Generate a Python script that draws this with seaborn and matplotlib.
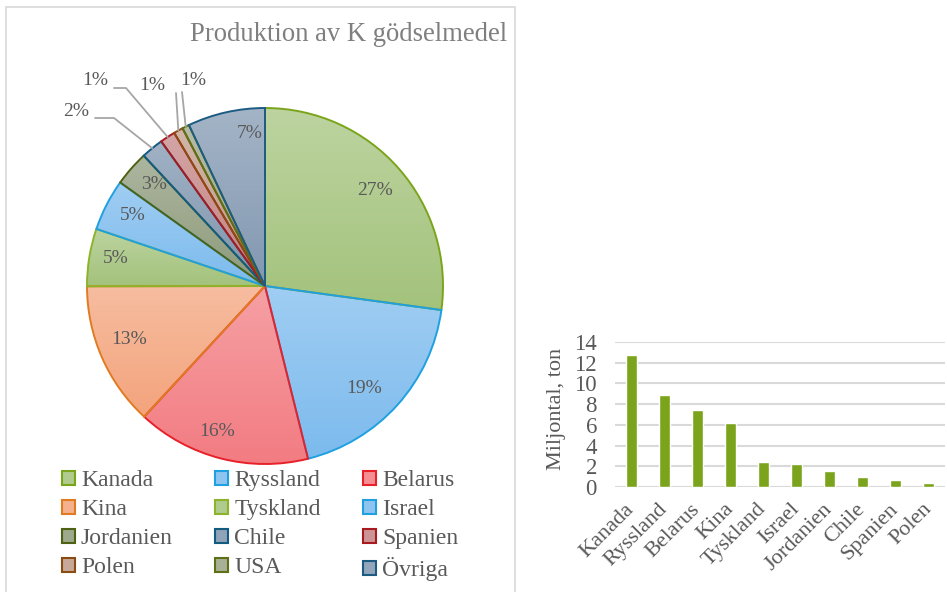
import numpy as np
import pandas as pd
import matplotlib
matplotlib.use("Agg")
import matplotlib.pyplot as plt
from matplotlib.patches import Patch, Rectangle
from matplotlib.colors import to_rgb
import seaborn as sns

# ---------------- data ----------------
countries = ["Kanada", "Ryssland", "Belarus", "Kina", "Tyskland", "Israel",
             "Jordanien", "Chile", "Spanien", "Polen", "USA", "Övriga"]
production = [12.75, 8.9, 7.4, 6.15, 2.45, 2.2, 1.5, 0.95, 0.65, 0.4, 0.3, 3.3]
bar_countries = countries[:10]
bar_values = production[:10]
yticks = [0, 2, 4, 6, 8, 10, 12, 14]
title = "Produktion av K gödselmedel"
ylabel = "Miljontal, ton"

# ---------------- style ----------------
sns.set_style("white")
plt.rcParams["font.family"] = ["Liberation Serif", "DejaVu Serif"]
TXT = "#595959"

fills = ['#B0CB8E', '#8EC4F0', '#F48E93', '#F5B08E', '#B0CB8E', '#8EC4F0',
         '#9DA88D', '#8FA3B9', '#CC9494', '#C8A898', '#A8B096', '#93A6BC']
edges = ['#7AA51A', '#1FA0E0', '#E8202A', '#E07B22', '#8DB32A', '#20A0E0',
         '#4F6213', '#145B82', '#A81A20', '#8B4C14', '#5E7016', '#1D5C82']

W, H = 947, 592
fig = plt.figure(figsize=(W / 100, H / 100), dpi=100)

# frame around left panel
fig.patches.append(Rectangle((6 / W, -0.01), (515 - 6) / W, 1 - 7 / H + 0.01,
                             transform=fig.transFigure, fill=False,
                             edgecolor="#D9D9D9", linewidth=1.2))

fig.text(507 / W, 1 - 41 / H, title, ha="right", va="baseline",
         fontsize=19.2, color="#7F7F7F")

# ---------------- pie ----------------
cx, cy, R = 265, 286, 178
half = 200
ax_pie = fig.add_axes([(cx - half) / W, (H - cy - half) / H, 2 * half / W, 2 * half / H])
wedges, _ = ax_pie.pie(production, startangle=90, counterclock=False, radius=1,
                       wedgeprops=dict(linewidth=1.4))
grad = np.linspace(0, 1, 200)[:, None, None]
for w, f, e in zip(wedges, fills, edges):
    c = np.array(to_rgb(f))
    top = c + (1 - c) * 0.16
    bot = np.clip(c - (1 - c) * 0.16, 0, 1)
    img = top * (1 - grad) + bot * grad
    ext = w.get_path().get_extents()
    im = ax_pie.imshow(img, extent=(ext.x0, ext.x1, ext.y0, ext.y1), origin="upper",
                       aspect="auto", interpolation="bilinear", zorder=1)
    im.set_clip_path(w)
    w.set_facecolor("none")
    w.set_edgecolor(e)
    w.set_zorder(2)

lim = half / R
ax_pie.set_xlim(-lim, lim)
ax_pie.set_ylim(-lim, lim)
ax_pie.set_aspect("equal")
ax_pie.axis("off")

total = sum(production)
pcts = [f"{round(v / total * 100):.0f}%" for v in production]

def px2d(px, py):
    return (px - cx) / R, (cy - py) / R

inside = {0: (0.82, 0), 1: (0.80, -4), 2: (0.86, -4), 3: (0.82, -2),
          4: (0.85, -1), 5: (0.84, -1), 6: (0.845, -1), 11: (0.86, -7)}
for i, (r, dang) in inside.items():
    w = wedges[i]
    ang = np.deg2rad((w.theta1 + w.theta2) / 2 + dang)
    ax_pie.text(r * np.cos(ang), r * np.sin(ang), pcts[i], ha="center", va="center",
                fontsize=14, color=TXT, zorder=5)

# small slices with leader lines: text position, line start, optional elbow
outside = {
    7: ((76, 111), (95, 118), (114, 118)),
    8: ((95, 80), (114, 88), (126, 88)),
    9: ((152, 86), (176, 93), None),
    10: ((193, 80), (182, 92), None),
}
for i, (tp, ls, elb) in outside.items():
    w = wedges[i]
    ang = np.deg2rad((w.theta1 + w.theta2) / 2)
    ax_pie.text(*px2d(*tp), pcts[i], ha="center", va="center", fontsize=14,
                color=TXT, zorder=5)
    pts = [px2d(*ls)]
    if elb is not None:
        pts.append(px2d(*elb))
    pts.append((np.cos(ang), np.sin(ang)))
    xs, ys = zip(*pts)
    ax_pie.plot(xs, ys, color="#A6A6A6", lw=1.3, zorder=4, clip_on=False)

# legend (row-major order)
handles = [Patch(facecolor=f, edgecolor=e, linewidth=1.5, label=c)
           for c, f, e in zip(countries, fills, edges)]
order = [h for k in range(3) for h in handles[k::3]]
leg = fig.legend(handles=order, labels=[h.get_label() for h in order], ncol=3,
                 loc="upper left", bbox_to_anchor=(62 / W, 1 - 470 / H),
                 frameon=False, fontsize=17, handlelength=0.55, handleheight=0.55,
                 handletextpad=0.25, columnspacing=1.8, labelspacing=0.34,
                 borderpad=0, borderaxespad=0)
for t in leg.get_texts():
    t.set_color(TXT)

# ---------------- bar chart ----------------
x0, x1, ytop, ybot = 615, 945, 342, 487
ax_bar = fig.add_axes([x0 / W, (H - ybot) / H, (x1 - x0) / W, (ybot - ytop) / H])
df = pd.DataFrame({"land": bar_countries, "ton": bar_values})
sns.barplot(data=df, x="land", y="ton", color="#7BA31C", saturation=1, width=0.35,
            ax=ax_bar, zorder=3)
ax_bar.set_ylim(0, 14)
ax_bar.set_xlim(-0.5, len(bar_countries) - 0.5)
ax_bar.set_yticks(yticks)
ax_bar.yaxis.grid(True, color="#D9D9D9", linewidth=1.5, zorder=0)
ax_bar.set_axisbelow(True)
for s in ax_bar.spines.values():
    s.set_visible(False)
ax_bar.tick_params(axis="both", length=0, labelsize=16.5, colors=TXT)
ax_bar.tick_params(axis="y", pad=13)
ax_bar.set_xlabel("")
ax_bar.set_ylabel(ylabel, fontsize=16, color=TXT)
ax_bar.yaxis.set_label_coords(-(x0 - 566) / (x1 - x0), 0.54)
for lab in ax_bar.get_xticklabels():
    lab.set_rotation(45)
    lab.set_ha("right")
    lab.set_va("center")
    lab.set_rotation_mode("anchor")
    lab.set_fontsize(16)
ax_bar.tick_params(axis="x", pad=14)

fig.savefig("out.png", dpi=100)
